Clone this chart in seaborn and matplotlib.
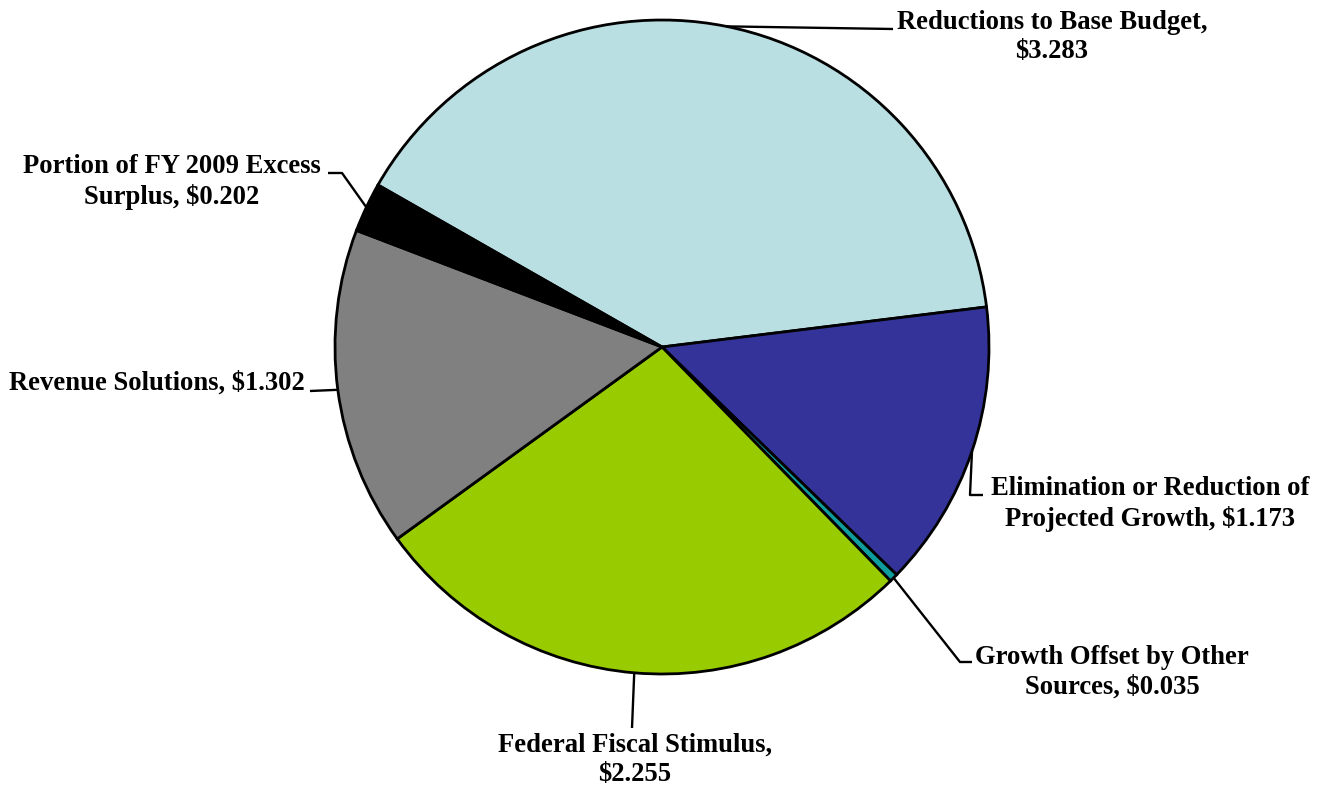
import numpy as np
import matplotlib
matplotlib.use("Agg")
import matplotlib.pyplot as plt
import seaborn as sns

# --- Data (billions of $)
categories = ["Reductions to Base Budget,", "Elimination or Reduction of\nProjected Growth,",
              "Growth Offset by Other\nSources,", "Federal Fiscal Stimulus,",
              "Revenue Solutions,", "Portion of FY 2009 Excess\nSurplus,"]
values = [3.283, 1.173, 0.035, 2.255, 1.302, 0.202]
colors = ["#B9DFE3", "#333399", "#0E9C9C", "#99CC00", "#808080", "#000000"]

# how the value is joined to the label (new line or same line)
joiners = ["\n", " ", " ", "\n", " ", " "]

# label block centres and leader elbows, in pixels of the 1326x788 picture
label_px = [(1052, 37), (1150, 504), (1112, 672), (635, 760), (157, 383), (172, 182)]
leader_px = [[(893, 29)], [(970, 495), (983, 495)], [(960, 662), (972, 662)],
             [(632, 728)], [(310, 391)], [(342, 173), (328, 173)]]

sns.set_theme(style="white")
plt.rcParams["font.family"] = ["Liberation Serif", "DejaVu Serif"]

W, H = 1326, 788
cx, cy, R = 662, 347, 327   # pie centre / radius in pixels


def px(p):
    return ((p[0] - cx) / R, (cy - p[1]) / R)


fig = plt.figure(figsize=(W / 100, H / 100), dpi=100)
ax = fig.add_axes([0, 0, 1, 1])
wedges, _ = ax.pie(values, colors=colors, startangle=150.3, counterclock=False,
                   radius=1, center=(0, 0),
                   wedgeprops=dict(edgecolor="black", linewidth=2))
ax.set_xlim(-cx / R, (W - cx) / R)
ax.set_ylim(-(H - cy) / R, cy / R)
ax.set_aspect("equal")
ax.axis("off")

for w, cat, v, j, lp, ld in zip(wedges, categories, values, joiners, label_px, leader_px):
    mid = np.deg2rad((w.theta1 + w.theta2) / 2)
    pts = [(np.cos(mid), np.sin(mid))] + [px(p) for p in ld]
    xs, ys = zip(*pts)
    ax.plot(xs, ys, color="black", lw=1.7, solid_capstyle="butt")
    tx, ty = px(lp)
    ax.text(tx, ty, f"{cat}{j}${v:.3f}", ha="center", va="center",
            multialignment="center", fontsize=19.2, fontweight="bold",
            linespacing=1.26, color="black")

fig.savefig("out.png", dpi=100)
